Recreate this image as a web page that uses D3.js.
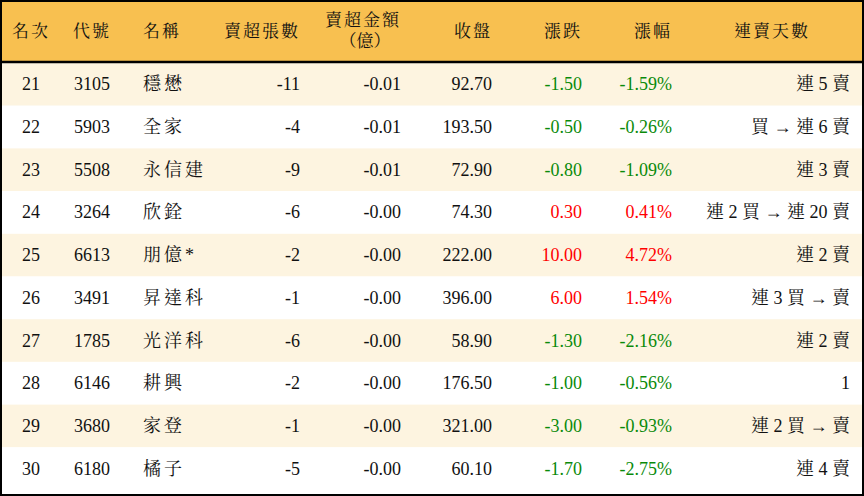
<!DOCTYPE html>
<html lang="zh-Hant">
<head>
<meta charset="utf-8">
<script src="https://d3js.org/d3.v7.min.js"></script>
<style>body{margin:0;background:#fff}</style>
</head>
<body>
<script>
// table data
var ranks = [21,22,23,24,25,26,27,28,29,30];
var codes = ["3105","5903","5508","3264","6613","3491","1785","6146","3680","6180"];
var names = ["穩懋","全家","永信建","欣銓","朋億*","昇達科","光洋科","耕興","家登","橘子"];
var sellLots = [-11,-4,-9,-6,-2,-1,-6,-2,-1,-5];
var sellAmt = ["-0.01","-0.01","-0.01","-0.00","-0.00","-0.00","-0.00","-0.00","-0.00","-0.00"];
var closes = ["92.70","193.50","72.90","74.30","222.00","396.00","58.90","176.50","321.00","60.10"];
var changes = ["-1.50","-0.50","-0.80","0.30","10.00","6.00","-1.30","-1.00","-3.00","-1.70"];
var pcts = ["-1.59%","-0.26%","-1.09%","0.41%","4.72%","1.54%","-2.16%","-0.56%","-0.93%","-2.75%"];
var streaks = ["連 5 賣","買 → 連 6 賣","連 3 賣","連 2 買 → 連 20 賣","連 2 賣","連 3 買 → 賣","連 2 賣","1","連 2 買 → 賣","連 4 賣"];
var headers = ["名次","代號","名稱","賣超張數","賣超金額","收盤","漲跌","漲幅","連賣天數"];

var W = 864, H = 496, headH = 63, rowH = 42.7;
var font = "'Liberation Serif','Noto Serif CJK TC','Noto Sans CJK TC',serif";

var svg = d3.select("body").append("svg").attr("width", W).attr("height", H);

var y = d3.scaleBand().domain(d3.range(ranks.length)).range([headH, headH + rowH*ranks.length]);

svg.append("rect").attr("width", W).attr("height", headH).attr("fill", "#f8c050");
svg.selectAll("rect.row").data(ranks).enter().append("rect")
  .attr("class","row").attr("x",0).attr("y",(d,i)=>y(i)).attr("width",W).attr("height",y.bandwidth())
  .attr("fill",(d,i)=> i%2==0 ? "#fdf4e0" : "#ffffff");
svg.append("line").attr("x1",0).attr("x2",W).attr("y1",headH-1).attr("y2",headH-1)
  .attr("stroke","#000").attr("stroke-width",2.5);
svg.append("rect").attr("x",1).attr("y",1).attr("width",W-2).attr("height",H-2)
  .attr("fill","none").attr("stroke","#000").attr("stroke-width",2);

// columns: x position and anchor
var cols = [
  {x:31, a:"middle", v:ranks},
  {x:92, a:"middle", v:codes},
  {x:143, a:"start", v:names},
  {x:300, a:"end", v:sellLots},
  {x:401, a:"end", v:sellAmt},
  {x:492, a:"end", v:closes},
  {x:582, a:"end", v:changes, c:true},
  {x:672, a:"end", v:pcts, c:true},
  {x:850, a:"end", v:streaks}
];
var headX = [[31,"middle"],[92,"middle"],[143,"start"],[300,"end"],[401,"end"],[492,"end"],[582,"end"],[672,"end"],[772,"middle"]];

headers.forEach(function(h,i){
  var t = svg.append("text").attr("x",headX[i][0]).attr("text-anchor",headX[i][1])
    .attr("font-family",font).attr("font-size",17).attr("letter-spacing",2).attr("fill","#111");
  if (i == 4) {
    t.attr("y",26).text(h);
    svg.append("text").attr("x",365).attr("y",47).attr("text-anchor","middle")
      .attr("font-family",font).attr("font-size",17).attr("fill","#111").text("（億）");
  } else t.attr("y",37).text(h);
});

cols.forEach(function(c,ci){
  svg.selectAll("text.c"+ci).data(c.v).enter().append("text")
    .attr("class","c"+ci).attr("x",c.x).attr("y",(d,i)=>y(i)+y.bandwidth()/2+6)
    .attr("text-anchor",c.a).attr("font-family",font).attr("font-size",18)
    .attr("letter-spacing", ci==2 ? 3 : 0)
    .attr("fill",(d,i)=> c.c ? (parseFloat(changes[i])<0 ? "#0a8a0a" : "#ff0000") : "#111")
    .text(d=>d);
});
</script>
</body>
</html>
